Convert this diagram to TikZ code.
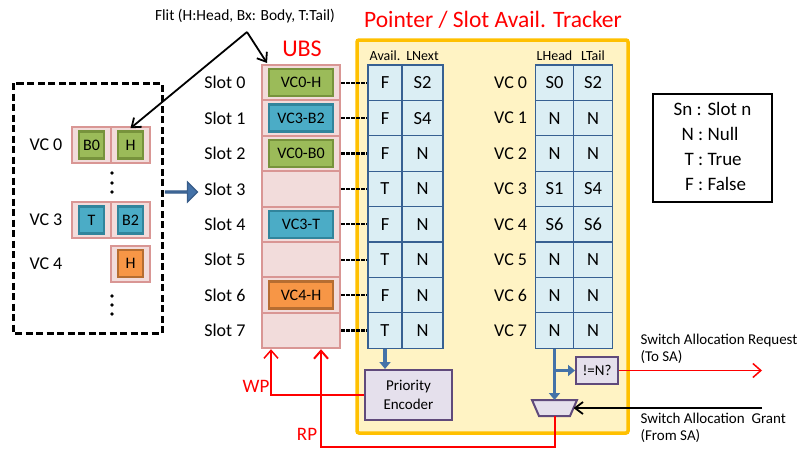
\documentclass[tikz,border=0pt]{standalone}
\usepackage{fontspec}
\setmainfont{Carlito}
\usetikzlibrary{arrows.meta,shapes.arrows}
\definecolor{ubsfill}{HTML}{F2DCDB}
\definecolor{ubsline}{HTML}{D99694}
\definecolor{tabfill}{HTML}{DBEEF4}
\definecolor{tabline}{HTML}{376092}
\definecolor{trkfill}{HTML}{FFF3C4}
\definecolor{trkline}{HTML}{FFC000}
\definecolor{logfill}{HTML}{E5E0EC}
\definecolor{logline}{HTML}{604A7B}
\definecolor{grfill}{HTML}{9BBB59}
\definecolor{grline}{HTML}{77933C}
\definecolor{blfill}{HTML}{4BACC6}
\definecolor{blline}{HTML}{31859C}
\definecolor{orfill}{HTML}{F79646}
\definecolor{orline}{HTML}{B66D31}
\definecolor{arrblue}{HTML}{4472A8}
\definecolor{arrbord}{HTML}{385D8A}

\begin{document}
\begin{tikzpicture}[x=1pt,y=-1pt,
  slotcell/.style={draw=ubsline,fill=ubsfill,line width=2pt,minimum width=78pt,minimum height=35.4pt,inner sep=0pt},
  tcell/.style={draw=tabline,fill=tabfill,line width=1.3pt,minimum height=35.4pt,inner sep=0pt,font=\fontsize{18.5}{20}\selectfont},
  flit/.style={draw=#1line,fill=#1fill,line width=2.5pt,minimum width=64pt,minimum height=27pt,inner sep=0pt,font=\fontsize{16}{18}\selectfont},
  smallflit/.style={flit=#1,minimum width=25pt,minimum height=27pt},
  logic/.style={draw=logline,fill=logfill,line width=2pt,inner sep=0pt,font=\fontsize{15}{19}\selectfont,align=center},
  dashline/.style={black,line width=2.2pt,dash pattern=on 3.5pt off 1.5pt},
  bluearr/.style={arrblue,line width=3.5pt,-{Triangle[length=7pt,width=11pt]}},
  redarr/.style={red,line width=1.5pt,-{Straight Barb[length=8pt,width=14pt]}},
  blkarr/.style={line width=1.8pt,-{Straight Barb[length=8pt,width=12pt]}},
  lbl/.style={font=\fontsize{18}{20}\selectfont},
  hdr/.style={font=\fontsize{14}{16}\selectfont},
  note/.style={font=\fontsize{15}{17}\selectfont,align=left,anchor=west}]

\useasboundingbox (0,0) rectangle (801,450);

\draw[draw=trkline,fill=trkfill,line width=3.5pt,rounded corners=2pt] (357,40) rectangle (628,433);
\node[red,font=\fontsize{23.5}{26}\selectfont] (title) at (493,20) {Pointer / Slot Avail. Tracker};
\node[red,font=\fontsize{24}{26}\selectfont] (ubs) at (302,49) {UBS};

\foreach \i/\av/\ln/\lh/\lt in {0/F/S2/S0/S2,1/F/S4/N/N,2/F/N/N/N,3/T/N/S1/S4,4/F/N/S6/S6,5/T/N/N/N,6/F/N/N/N,7/T/N/N/N}{
  \pgfmathsetmacro{\ry}{82.7+35.4*\i}
  \node[slotcell] (s\i) at (301,\ry) {};
  \node[lbl,anchor=east] (sl\i) at ([xshift=-12pt]s\i.west) {Slot \i};
  \node[tcell,minimum width=34pt] (av\i) at (385,\ry) {\av};
  \node[tcell,minimum width=41pt] (ln\i) at (422.5,\ry) {\ln};
  \node[tcell,minimum width=38.5pt] (lh\i) at (554.5,\ry) {\lh};
  \node[tcell,minimum width=38.5pt] (lt\i) at (593,\ry) {\lt};
  \node[lbl,anchor=east] (vc\i) at ([xshift=-4pt]lh\i.west) {VC \i};
  \draw[dashline] (s\i.east) -- (av\i.west);
}
\foreach \i/\txt/\col in {0/VC0-H/gr,1/VC3-B2/bl,2/VC0-B0/gr,4/VC3-T/bl,6/VC4-H/or}
  \node[flit=\col] (f\i) at (s\i) {\txt};

\node[hdr,anchor=south] (havail) at (av0.north) {Avail.};
\node[hdr,anchor=south] (hlnext) at (ln0.north) {LNext};
\node[hdr,anchor=south] (hlhead) at (lh0.north) {LHead};
\node[hdr,anchor=south] (hltail) at (lt0.north) {LTail};

\draw[line width=3pt,dash pattern=on 7pt off 3.5pt] (13,83) rectangle (162,333);
\node[lbl,anchor=west] (lvc0) at (26,145) {VC 0};
\node[lbl,anchor=west] (lvc3) at (26,220) {VC 3};
\node[lbl,anchor=west] (lvc4) at (26,264) {VC 4};
\node[slotcell,minimum width=39pt,minimum height=36pt] (b00) at (91.5,145) {};
\node[slotcell,minimum width=39pt,minimum height=36pt] (b01) at (130.5,145) {};
\node[slotcell,minimum width=39pt,minimum height=36pt] (b30) at (91.5,220) {};
\node[slotcell,minimum width=39pt,minimum height=36pt] (b31) at (130.5,220) {};
\node[slotcell,minimum width=39pt,minimum height=36pt] (b41) at (130.5,263.5) {};
\node[smallflit=gr] (vb0) at (b00) {B0};
\node[smallflit=gr] (vh0) at (b01) {H};
\node[smallflit=bl] (vt3) at (b30) {T};
\node[smallflit=bl] (vb3) at (b31) {B2};
\node[smallflit=or] (vh4) at (b41) {H};
\foreach \y in {173,183,192,296,305,314}
  \fill (112,\y) circle (1.8pt);

\node[single arrow,draw=arrbord,fill=arrblue,line width=1.2pt,minimum height=32pt,minimum width=20pt,single arrow head extend=5pt,inner sep=0pt] (mv) at (181,192) {};

\node[font=\fontsize{15.5}{17}\selectfont] (flitlbl) at (245,16) {Flit (H:Head, Bx: Body, T:Tail)};
\coordinate (apex) at (247,32);
\draw[blkarr] (apex) -- ([xshift=6pt,yshift=1pt]s0.north west);
\draw[blkarr] (apex) -- ([yshift=2pt]vh0.north);

\node[draw,line width=1.5pt,minimum width=119pt,minimum height=108pt,font=\fontsize{19}{25}\selectfont] (legend) at (712.5,148)
  {\begin{tabular}{@{}r@{ : }l@{}}Sn & Slot n\\ N & Null\\ T & True\\ F & False\end{tabular}};

\node[logic,minimum width=87pt,minimum height=50pt] (penc) at (408.5,395) {Priority\\Encoder};
\node[logic,minimum width=42pt,minimum height=27pt] (neq) at (597,370.5) {!=N?};
\coordinate (mux) at (554.5,408);
\coordinate (muxn) at (554.5,400);
\coordinate (muxs) at (554.5,416);
\coordinate (muxe) at (573.5,408);
\draw[logic] ([shift={(-22.5,-8)}]mux) -- ([shift={(22.5,-8)}]mux) -- ([shift={(15.5,8)}]mux) -- ([shift={(-15.5,8)}]mux) -- cycle;

\draw[bluearr] (av7.south) -- (av7.south |- penc.north);
\draw[arrblue,line width=3.5pt] (lh7.south) -- (lh7.south |- neq.west);
\draw[bluearr] (lh7.south |- neq.west) -- (neq.west);
\draw[bluearr] (lh7.south |- neq.west) -- (muxn);

\draw[redarr] (penc.west) -| ([xshift=10pt]s7.south west);
\draw[redarr,line width=2pt] (muxs) -- ++(0,31) -| ([xshift=60pt]s7.south west);
\node[red,font=\fontsize{19}{21}\selectfont] (wp) at (256,386) {WP};
\node[red,font=\fontsize{19}{21}\selectfont] (rp) at (307,434) {RP};

\coordinate (reqend) at (762,370.5);
\coordinate (grantstart) at (762,408);
\draw[redarr] (neq.east) -- (reqend);
\draw[blkarr] (grantstart) -- (muxe);
\node[note] (reqlbl) at (637,349) {Switch Allocation Request\\(To SA)};
\node[note] (grantlbl) at (637,428) {Switch Allocation\ \ Grant\\(From SA)};
\end{tikzpicture}
\end{document}
